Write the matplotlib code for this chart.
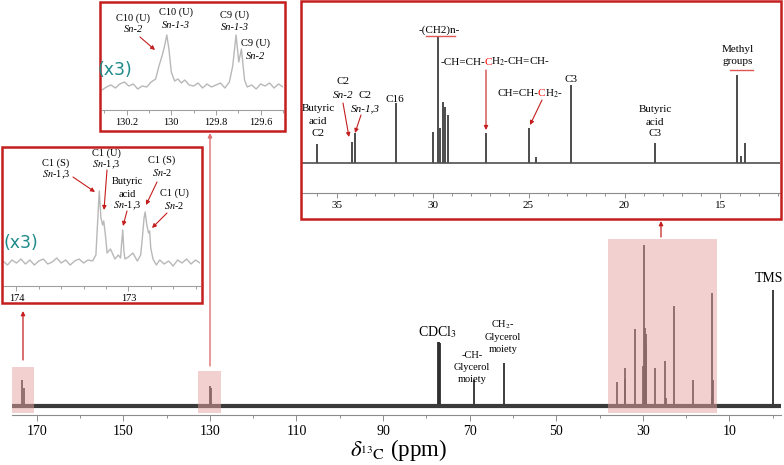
import matplotlib
matplotlib.use('Agg')
import matplotlib.pyplot as plt
from matplotlib.patches import Rectangle, FancyArrowPatch
from matplotlib.lines import Line2D
from matplotlib.ticker import MultipleLocator

plt.rcParams['font.family'] = ['Liberation Serif', 'DejaVu Serif']
plt.rcParams['mathtext.fontset'] = 'stix'

W, H = 784, 465

# --- peak list of the full 13C spectrum (ppm, intensity) ---
peak_ppm = [173.3, 172.9, 130.0, 129.7, 77.4, 77.1, 76.8, 69.0, 62.1,
            36.0, 34.2, 34.05, 31.9, 29.95, 29.7, 29.6, 29.45, 29.35, 29.2,
            27.2, 24.95, 24.6, 22.8, 18.4, 14.15, 13.95, 13.7, 0.0]
peak_int = [20, 14, 16, 14, 50, 50, 49, 20, 34,
            19, 21, 30, 60, 31, 126, 35, 61, 56, 48,
            30, 35, 6, 78, 20, 88, 7, 20, 91]

# --- carbonyl region trace (x3) ---
c1_ppm = [174.12, 174.08, 174.04, 174.00, 173.96, 173.92, 173.88, 173.84, 173.80, 173.76,
          173.72, 173.68, 173.64, 173.60, 173.56, 173.52, 173.48, 173.44, 173.40, 173.36,
          173.32, 173.29, 173.275, 173.26, 173.245, 173.23, 173.22, 173.205, 173.19, 173.16,
          173.12, 173.09, 173.07, 173.06, 173.05, 173.04, 173.03, 173.00, 172.96, 172.92,
          172.89, 172.875, 172.86, 172.85, 172.835, 172.82, 172.81, 172.80, 172.78, 172.75,
          172.72, 172.68, 172.64, 172.60, 172.56, 172.52, 172.48, 172.44, 172.40, 172.36]
c1_int = [2, -2, 3, 0, 4, -1, 3, -2, 2, 4,
          -1, 1, 5, 0, 3, -2, 2, 4, 0, 3,
          2, 8, 40, 72, 45, 38, 42, 28, 10, 14,
          4, 8, 5, 20, 33, 12, 4, 6, 10, 2,
          8, 25, 45, 51, 38, 30, 32, 15, 4, -2,
          3, -1, 2, -3, 3, 0, 4, -1, 3, 0]

# --- olefinic region trace (x3) ---
c9_ppm = [130.31, 130.29, 130.27, 130.25, 130.23, 130.21, 130.19, 130.17, 130.15, 130.13,
          130.11, 130.09, 130.07, 130.055, 130.04, 130.03, 130.02, 130.01, 130.00, 129.985,
          129.97, 129.955, 129.94, 129.92, 129.90, 129.88, 129.86, 129.84, 129.82, 129.80,
          129.78, 129.76, 129.74, 129.725, 129.71, 129.698, 129.686, 129.672, 129.66, 129.64,
          129.62, 129.60, 129.58, 129.56, 129.54, 129.52, 129.50]
c9_int = [-2, 1, 3, 0, 4, 6, 2, 4, -1, 2,
          1, 6, 9, 22, 33, 42, 53, 38, 16, 7,
          9, 5, 8, 3, 2, 5, 0, 4, 1, 3,
          5, 0, 6, 22, 53, 26, 39, 8, 1, 3,
          -1, 4, 2, 5, 0, 4, 1]

main_ticks = [170, 150, 130, 110, 90, 70, 50, 30, 10]
zoom_ticks = [35, 30, 25, 20, 15]
c1_ticks = [174, 173]
c9_ticks = [130.2, 130.0, 129.8, 129.6]
c9_labels = ['130.2', '130', '129.8', '129.6']

RED = '#c41e1e'

fig = plt.figure(figsize=(W / 100, H / 100), dpi=100)


def axes_px(x0, y0, x1, y1):
    return fig.add_axes([x0 / W, 1 - y1 / H, (x1 - x0) / W, (y1 - y0) / H])


def fpt(x, y):
    return (x / W, 1 - y / H)


def style_axis(ax, size, color='#8c8c8c'):
    for s in ('left', 'right', 'top'):
        ax.spines[s].set_visible(False)
    ax.spines['bottom'].set_color(color)
    ax.spines['bottom'].set_linewidth(0.8)
    ax.set_yticks([])
    ax.tick_params(axis='x', which='both', colors=color, labelcolor='black',
                   labelsize=size, width=0.7, direction='out')
    ax.tick_params(axis='x', which='major', length=3.5, pad=2)
    ax.tick_params(axis='x', which='minor', length=2.5)
    ax.patch.set_alpha(0)


def label(x, y, lines, size=7.5, dy=12):
    for i, (s, st) in enumerate(lines):
        fig.text(x / W, 1 - (y + i * dy) / H, s, ha='center', va='center',
                 fontsize=size, style=st)


def arrow(x0, y0, x1, y1, color=RED, lw=0.8, head=6):
    fig.add_artist(FancyArrowPatch(fpt(x0, y0), fpt(x1, y1), transform=fig.transFigure,
                                   arrowstyle='-|>', mutation_scale=head, color=color,
                                   lw=lw, shrinkA=0, shrinkB=0))


def box(x0, y0, x1, y1):
    fig.add_artist(Rectangle(fpt(x0, y1), (x1 - x0) / W, (y1 - y0) / H,
                             transform=fig.transFigure, fill=False, ec=RED, lw=1.8))


def underline(x0, x1, y):
    fig.add_artist(Line2D([x0 / W, x1 / W], [1 - y / H, 1 - y / H],
                          transform=fig.transFigure, color='#e05555', lw=1.0))


def colored(x, y, parts, size=8, tight=0.8):
    # one-line text whose pieces have their own colours
    r = fig.canvas.get_renderer()
    probe = fig.text(0, 0, '', fontsize=size)

    def width(s):
        probe.set_text(s)
        return probe.get_window_extent(r).width

    widths = [width(s) for s, _ in parts]
    total = sum(widths) - tight * (len(parts) - 1)
    cur = x - total / 2
    for (s, c), w in zip(parts, widths):
        fig.text(cur / W, 1 - y / H, s, color=c, fontsize=size, ha='left', va='baseline')
        cur += w - tight
    probe.remove()


# ---------------- main spectrum ----------------
ax = axes_px(12, 235, 781, 415)
ax.vlines(peak_ppm, 0, peak_int, color='#2e2e2e', lw=1.3)
ax.axhline(0, color='#3a3a3a', lw=3.0)
ax.set_xlim(175.7, -1.9)
ax.set_ylim(-7.0, 133.6)
ax.set_xticks(main_ticks)
ax.xaxis.set_minor_locator(MultipleLocator(10))
style_axis(ax, 10)
ax.tick_params(axis='x', which='major', length=4, pad=3)

for lo, hi, top in [(175.7, 170.6, 30.5), (132.7, 127.4, 27.3), (38.0, 12.9, 130.5)]:
    ax.add_patch(Rectangle((hi, -5.5), lo - hi, top + 5.5, facecolor='#e8a2a2',
                           alpha=0.5, ec='none', zorder=3))

fig.text(398 / W, 1 - 450 / H, r'$\delta_{{}^{13}\mathrm{C}}$ (ppm)', ha='center',
         va='center', fontsize=16.5)

label(437, 332, [(r'CDCl$_3$', 'normal')], size=10)
label(472, 355, [('-CH-', 'normal'), ('Glycerol', 'normal'), ('moiety', 'normal')], size=7.5)
label(503, 325, [(r'CH$_2$-', 'normal'), ('Glycerol', 'normal'), ('moiety', 'normal')], size=7.5)
label(769, 278, [('TMS', 'normal')], size=10)

# ---------------- 12-37 ppm inset ----------------
axr = axes_px(302, 5, 780, 193)
axr.vlines(peak_ppm, 0, peak_int, color='#2e2e2e', lw=1.2)
axr.axhline(0, color='#505050', lw=1.2)
axr.set_xlim(36.8, 11.9)
axr.set_ylim(-30, 158)
axr.set_xticks(zoom_ticks)
axr.xaxis.set_minor_locator(MultipleLocator(1))
style_axis(axr, 8)
box(301, 1, 781, 219)

label(318, 108, [('Butyric', 'normal'), ('acid', 'normal'), ('C2', 'normal')], size=8, dy=13)
label(343, 82, [('C2', 'normal'), ('Sn-2', 'italic')], size=8, dy=14)
label(365, 96, [('C2', 'normal'), ('Sn-1,3', 'italic')], size=8, dy=13)
label(395, 99, [('C16', 'normal')], size=8)
label(439, 30, [('-(CH2)n-', 'normal')], size=8)
underline(426, 455, 36)
colored(495, 65, [('-CH=CH-', 'black'), ('C', 'red'), (r'H$_2$-CH=CH-', 'black')], size=8)
colored(530, 96, [('CH=CH-', 'black'), ('C', 'red'), (r'H$_2$-', 'black')], size=8)
label(571, 79, [('C3', 'normal')], size=8)
label(655, 110, [('Butyric', 'normal'), ('acid', 'normal'), ('C3', 'normal')], size=8, dy=12)
label(738, 50, [('Methyl', 'normal'), ('groups', 'normal')], size=8, dy=12)
underline(730, 753, 70)

arrow(343, 103, 349, 137)
arrow(361, 115, 355, 133)
arrow(486, 70, 486, 130)
arrow(542, 100, 530, 125)

# ---------------- carbonyl inset ----------------
axl = axes_px(3, 150, 200, 286)
axl.plot(c1_ppm, c1_int, color='#b8b8b8', lw=1.0)
axl.set_xlim(174.12, 172.36)
axl.set_ylim(-23, 113)
axl.set_xticks(c1_ticks)
axl.xaxis.set_minor_locator(MultipleLocator(0.2))
style_axis(axl, 7.5, color='#a0a0a0')
box(2, 147, 202, 303)
fig.text(21 / W, 1 - 243 / H, '(x3)', color='#1f8a8a', fontsize=12.5, family='DejaVu Sans',
         ha='center', va='center')

label(56, 163, [('C1 (S)', 'normal'), (r'$\mathit{Sn}$-1,3', 'normal')])
label(106, 153, [('C1 (U)', 'normal'), (r'$\mathit{Sn}$-1,3', 'normal')])
label(127, 182, [('Butyric', 'normal'), ('acid', 'normal'), (r'$\mathit{Sn}$-1,3', 'normal')])
label(162, 160, [('C1 (S)', 'normal'), (r'$\mathit{Sn}$-2', 'normal')])
label(174, 193, [('C1 (U)', 'normal'), (r'$\mathit{Sn}$-2', 'normal')])

arrow(73, 177, 95, 192)
arrow(107, 170, 104, 210)
arrow(127, 211, 123, 226)
arrow(157, 182, 146, 205)
arrow(167, 213, 152, 228)

# ---------------- olefinic inset ----------------
axm = axes_px(102, 5, 283, 110)
axm.plot(c9_ppm, c9_int, color='#b8b8b8', lw=1.0)
axm.set_xlim(130.31, 129.5)
axm.set_ylim(-22, 83)
axm.set_xticks(c9_ticks, labels=c9_labels)
axm.xaxis.set_minor_locator(MultipleLocator(0.1))
style_axis(axm, 7.5, color='#a0a0a0')
box(100, 2, 285, 131)
fig.text(115 / W, 1 - 70 / H, '(x3)', color='#1f8a8a', fontsize=12.5, family='DejaVu Sans',
         ha='center', va='center')

label(133, 18, [('C10 (U)', 'normal'), ('Sn-2', 'italic')])
label(176, 12, [('C10 (U)', 'normal'), ('Sn-1-3', 'italic')], dy=13)
label(235, 15, [('C9 (U)', 'normal'), ('Sn-1-3', 'italic')], dy=13)
label(256, 43, [('C9 (U)', 'normal'), ('Sn-2', 'italic')], dy=13)
arrow(140, 37, 155, 50)

# ---------------- connectors ----------------
arrow(23, 360, 23, 311, lw=0.9)
arrow(210, 366, 210, 133, color='#e07070', lw=1.0)
arrow(661, 237, 661, 221, lw=0.9)

fig.savefig('out.png', dpi=100)
